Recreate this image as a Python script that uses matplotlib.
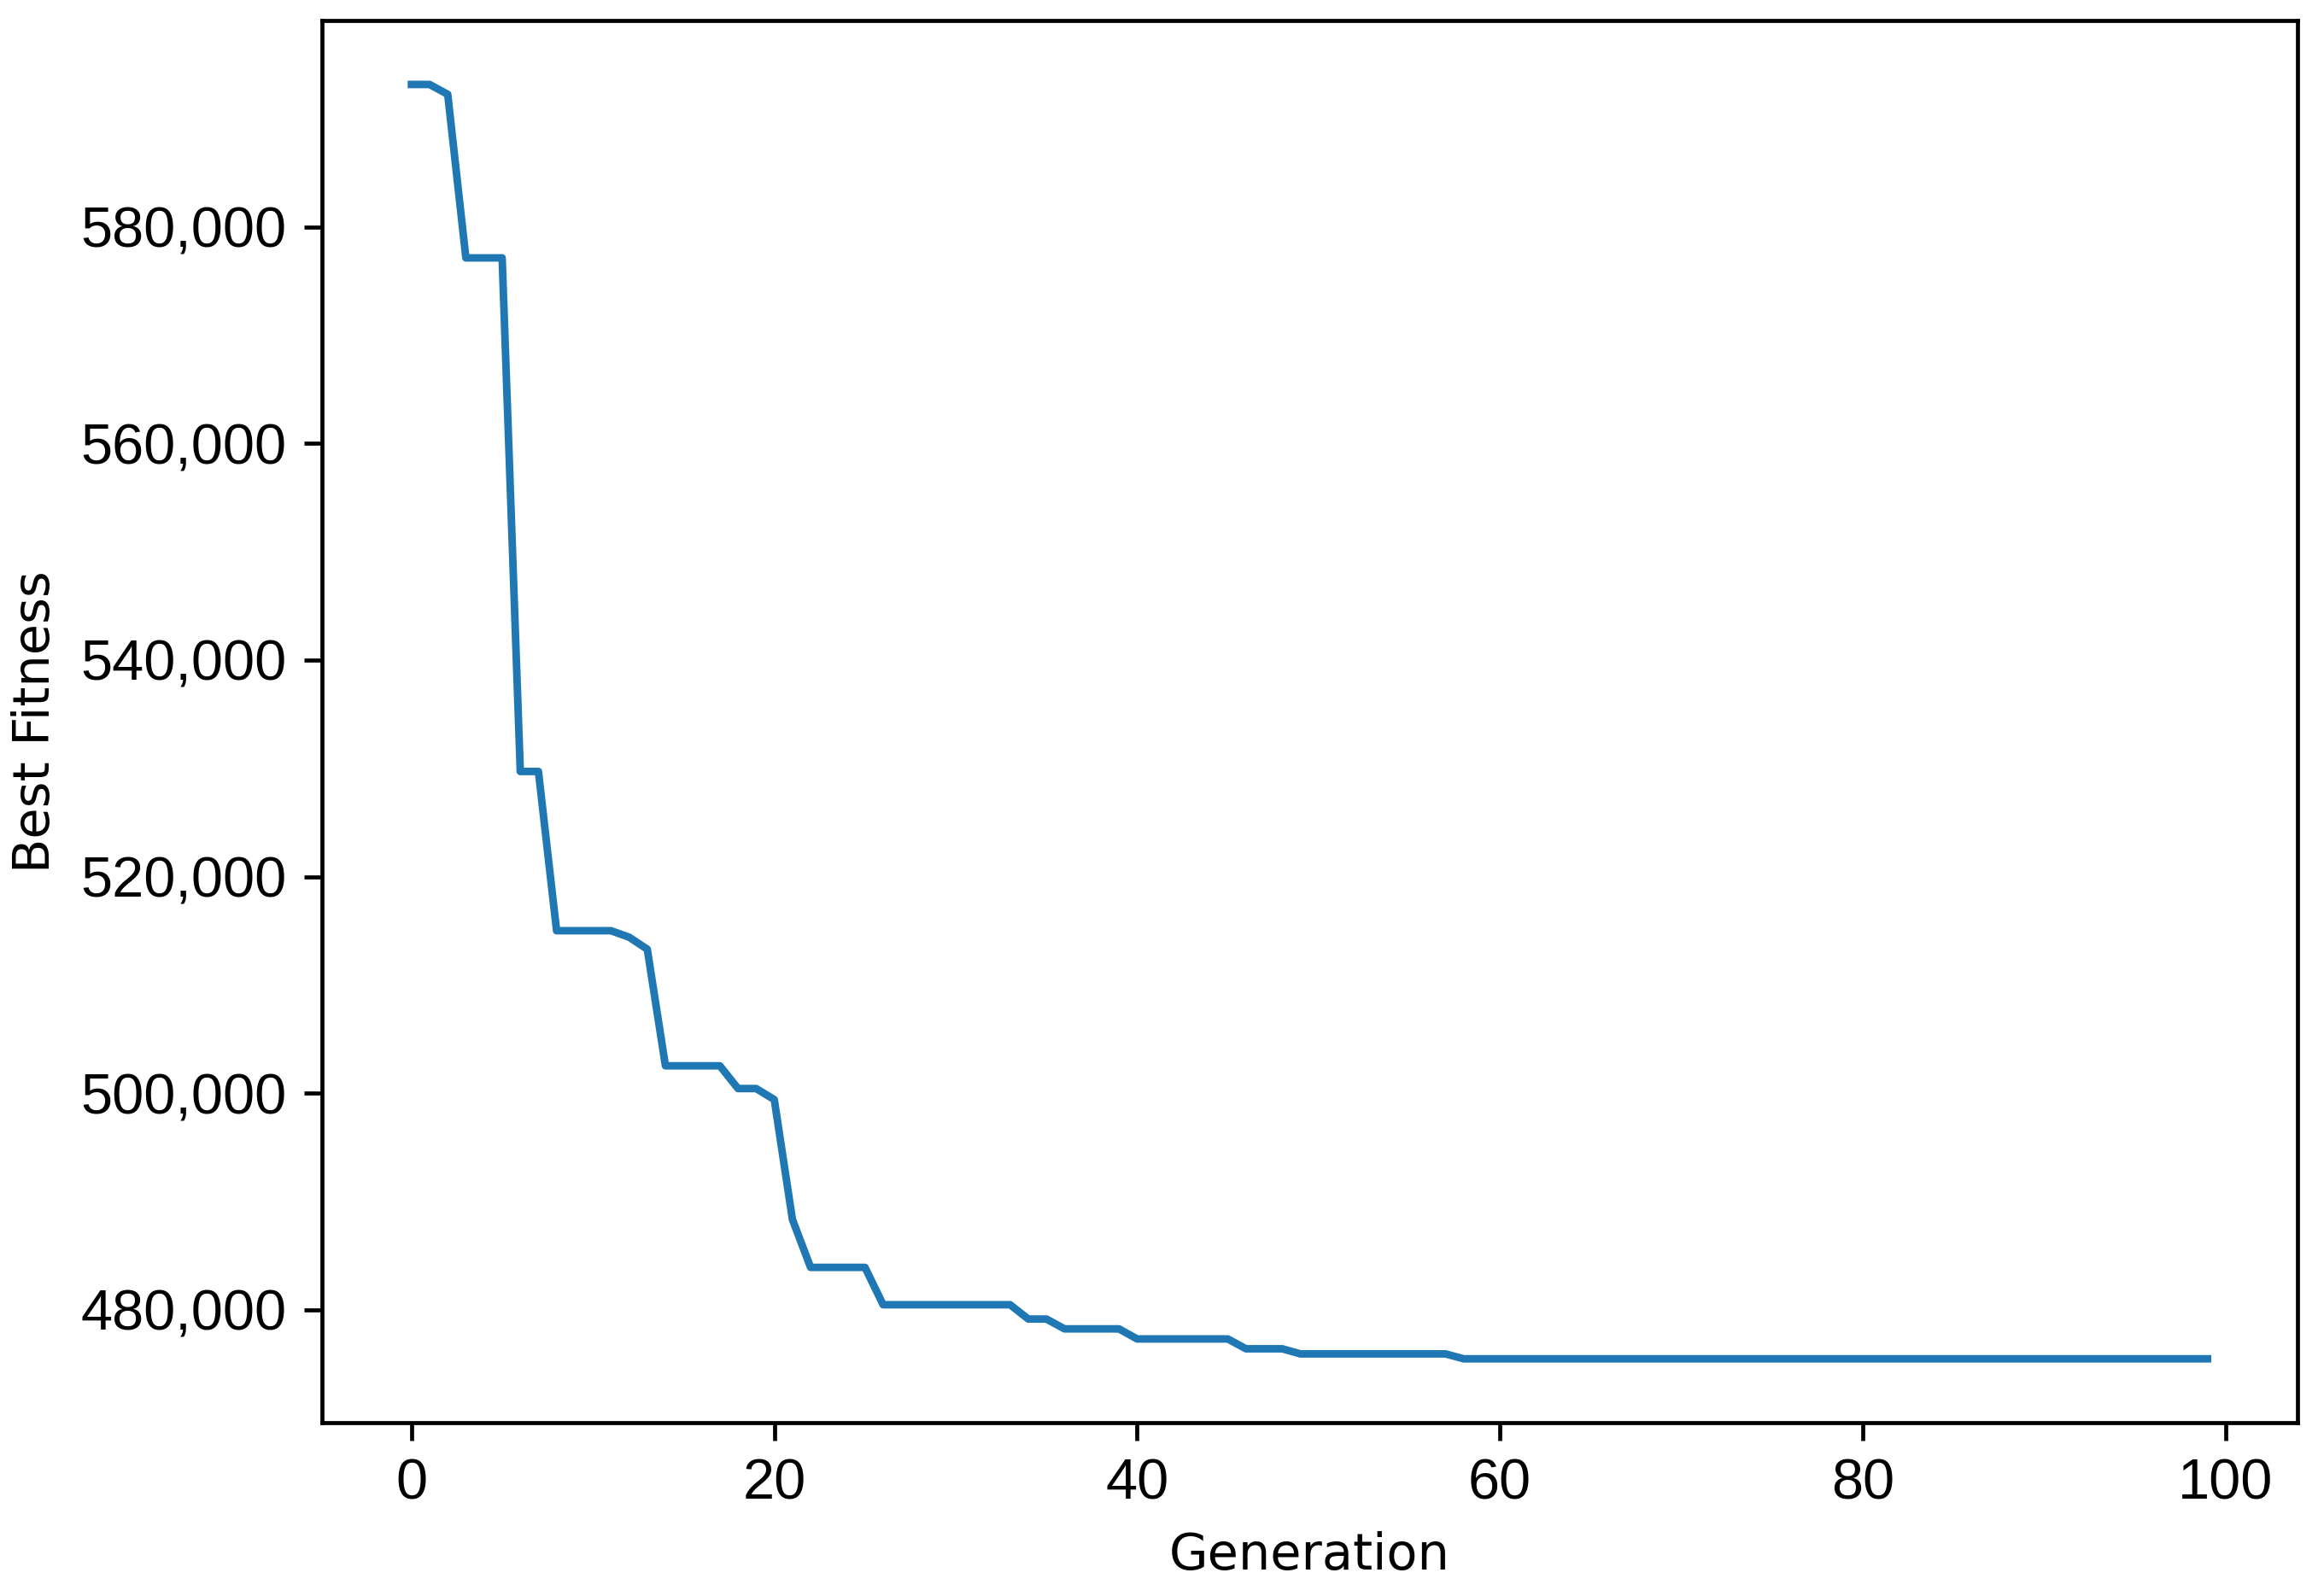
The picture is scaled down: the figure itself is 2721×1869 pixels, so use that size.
import matplotlib
matplotlib.use("Agg")
import matplotlib.pyplot as plt
from matplotlib.ticker import FuncFormatter

# Best fitness per generation
generations = list(range(100))
best_fitness = (
    [593170, 593170, 592260, 577150, 577150, 577150, 529710, 529710,
     515000, 515000, 515000, 515000, 514400, 513290,
     502520, 502520, 502520, 502520, 500420, 500420, 499400, 488330,
     483900, 483900, 483900, 483900]
    + [480450] * 8          # gens 26-33
    + [479130] * 2          # gens 34-35
    + [478220] * 4          # gens 36-39
    + [477290] * 6          # gens 40-45
    + [476380] * 3          # gens 46-48
    + [475910] * 9          # gens 49-57
    + [475456] * 42         # gens 58-99
)

x_label = "Generation"
y_label = "Best Fitness"
x_ticks = [0, 20, 40, 60, 80, 100]
y_ticks = [480000, 500000, 520000, 540000, 560000, 580000]

plt.rcParams['font.family'] = ['DejaVu Sans']

fig = plt.figure(figsize=(2721 / 425, 1869 / 425), dpi=425)
ax = fig.add_axes([0.1384, 0.1087, 0.9885 - 0.1384, 0.987 - 0.1087])

ax.plot(generations, best_fitness, color='#1f77b4', linewidth=1.5)

ax.set_xticks(x_ticks)
ax.set_yticks(y_ticks)
ax.yaxis.set_major_formatter(FuncFormatter(lambda v, p: f"{v:,.0f}"))

for lbl in ax.get_xticklabels() + ax.get_yticklabels():
    lbl.set_fontfamily(['Liberation Sans', 'DejaVu Sans'])
    lbl.set_fontsize(11.3)

ax.set_xlabel(x_label, fontsize=10)
ax.set_ylabel(y_label, fontsize=10)

fig.savefig("out.png", dpi=425, facecolor='white')
